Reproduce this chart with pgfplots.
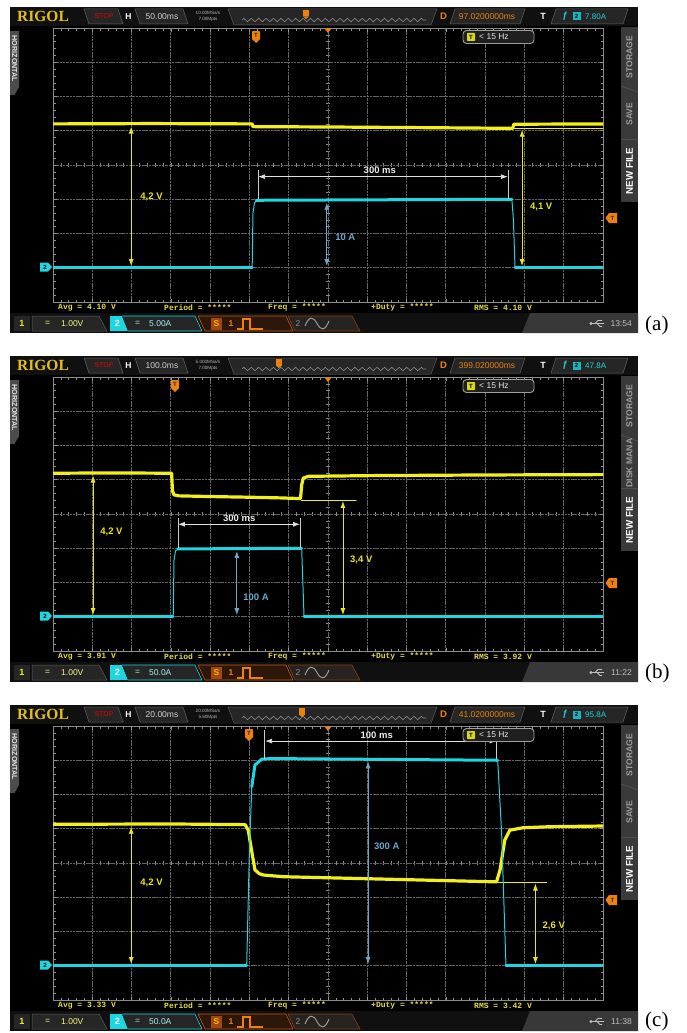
\documentclass[border=0pt]{standalone}
\usepackage{fontspec}
\setmainfont{Liberation Sans}
\newfontfamily\serif{Liberation Serif}
\newfontfamily\mono{Liberation Mono}
\usepackage{pgfplots}
\pgfplotsset{compat=1.18}
\usetikzlibrary{arrows.meta,decorations.pathmorphing}

\definecolor{ylw}{RGB}{242,240,22}
\definecolor{cyn}{RGB}{28,214,226}
\definecolor{annb}{RGB}{105,168,205}
\definecolor{anny}{RGB}{235,228,35}
\definecolor{gridc}{RGB}{100,100,100}
\definecolor{orng}{RGB}{238,128,12}
\definecolor{gold}{RGB}{226,192,24}
\definecolor{tabf}{RGB}{38,38,38}
\definecolor{tabl}{RGB}{92,92,92}
\definecolor{barf}{RGB}{16,16,16}
\definecolor{meas}{RGB}{228,218,70}
\definecolor{menu}{RGB}{58,58,58}
\definecolor{stopred}{RGB}{175,12,12}
\definecolor{sbg}{RGB}{45,22,10}
\definecolor{sline}{RGB}{200,90,20}

\newcommand\fs[1]{\fontsize{#1}{#1}\selectfont}

\tikzset{
  dimy/.style={anny, line width=0.8pt, {Latex[length=7pt,width=5pt]}-{Latex[length=7pt,width=5pt]}},
  dimb/.style={annb, line width=0.8pt, {Latex[length=7pt,width=5pt]}-{Latex[length=7pt,width=5pt]}},
  dimw/.style={white!88!black, line width=0.8pt, {Latex[length=7pt,width=5pt]}-{Latex[length=7pt,width=5pt]}},
  lab/.style={font=\bfseries\fs{9.5}, inner sep=0, anchor=west},
  endl/.style={white!80!black, line width=0.5pt},
}

\pgfplotsset{rigol/.style={
  scale only axis, width=550pt, height=274pt, anchor=south west,
  xmin=-7,xmax=7,ymin=-4,ymax=4,
  xtick={-7,-6,...,7}, ytick={-4,-3,...,4},
  xticklabels={}, yticklabels={},
  minor x tick num=4, minor y tick num=4,
  tick align=inside, tick pos=both,
  major tick length=3.5pt, minor tick length=2.5pt,
  every tick/.style={gridc!70!white, line width=0.6pt},
  grid=major,
  major grid style={gridc, line width=0.8pt, dash pattern=on 2.5pt off 0.8pt},
  axis line style={gridc!75!white, line width=0.8pt},
  clip=true,
  every axis plot/.append style={line join=round, line cap=round},
}}

% #1 H, #2 Sa, #3 pts, #4 D, #5 trig, #6 ch2, #7 avg, #8 rms, #9 time
\newcommand\chromeback[9]{%
 \fill[black] (10,-7) rectangle (638,-333);
 \fill[barf] (10,-7) rectangle (638,-26);
 \node[anchor=west,inner sep=0,text=gold,font=\serif\bfseries\fs{15.5}] at (17,-16.5) {RIGOL};
 \filldraw[fill=tabf,draw=tabl,line width=0.5pt] (84,-9)--(118,-9)--(123,-24)--(89,-24)--cycle;
 \node[text=stopred,font=\bfseries\fs{7}] at (104,-16.5) {STOP};
 \node[text=white,font=\bfseries\fs{8.5}] at (128.5,-16.5) {H};
 \filldraw[fill=tabf,draw=tabl,line width=0.5pt] (135,-9)--(183,-9)--(188,-24)--(140,-24)--cycle;
 \node[text=white!82!black,font=\fs{8.5}] at (162,-16.5) {#1};
 \node[text=white!72!black,font=\fontsize{4.6}{6.2}\selectfont,align=center,inner sep=0] at (208,-16.5) {#2\\#3};
 \filldraw[fill=tabf,draw=tabl,line width=0.5pt] (228,-9)--(437,-9)--(431,-25)--(234,-25)--cycle;
 \draw[white!55!black,line width=0.6pt,decorate,decoration={zigzag,segment length=7.4pt,amplitude=1.7pt}] (242,-20)--(426,-20);
 \node[text=orng,font=\bfseries\fs{9.5}] at (443.5,-16.5) {D};
 \filldraw[fill=tabf,draw=tabl,line width=0.5pt] (450,-24)--(455,-9)--(525,-9)--(520,-24)--cycle;
 \node[text=orng,font=\fs{8.5}] at (487,-16.5) {#4};
 \node[text=white,font=\bfseries\fs{9}] at (543,-16.5) {T};
 \filldraw[fill=tabf,draw=tabl,line width=0.5pt] (551,-24)--(556,-9)--(628,-9)--(623,-24)--cycle;
 \node[text=cyn,font=\bfseries\fs{9}] at (565,-16.5) {ƒ};
 \fill[cyn!85!black] (572.5,-12.5) rectangle (580.5,-20.5);
 \node[text=black,font=\bfseries\fs{6}] at (576.5,-16.5) {2};
 \node[anchor=west,inner sep=0,text=cyn,font=\fs{8}] at (585,-16.5) {#5};
 % left tab
 \fill[white!30!black] (10,-31)--(19,-31)--(19,-87)--(14.5,-95)--(10,-95)--cycle;
 \node[rotate=-90,text=white!90!black,font=\bfseries\fs{7.2},inner sep=0] at (14.5,-59) {HORIZONTAL};
 % measurements
 \begin{scope}[every node/.style={anchor=west,inner sep=0,text=meas,font=\mono\bfseries\fs{8}}]
 \node at (58,-307.5) {Avg = #7 V};
 \node at (164,-307.5) {Period = *****};
 \node at (268,-307.5) {Freq = *****};
 \node at (371,-307.5) {+Duty = *****};
 \node at (474,-307.5) {RMS = #8 V};
 \end{scope}
 % bottom bar
 \fill[barf] (10,-313) rectangle (638,-333);
 \fill[tabf] (14,-316) rectangle (30,-331);
 \node[text=ylw,font=\bfseries\fs{9}] at (22,-323.5) {1};
 \filldraw[fill=tabf,draw=tabl,line width=0.5pt] (32,-316)--(99,-316)--(107,-331)--(32,-331)--cycle;
 \node[anchor=west,inner sep=0,text=ylw!55!white,font=\fs{8.5}] at (45,-323.5) {=};
 \node[anchor=west,inner sep=0,text=ylw!55!white,font=\fs{8.5}] at (61,-323.5) {1.00V};
 \fill[cyn] (110,-316)--(122,-316)--(128,-331)--(110,-331)--cycle;
 \node[text=white,font=\bfseries\fs{9}] at (117.5,-323.5) {2};
 \filldraw[fill=tabf,draw=cyn,line width=0.6pt] (122,-316)--(195,-316)--(202,-331)--(128,-331);
 \node[anchor=west,inner sep=0,text=cyn!40!white,font=\fs{8.5}] at (135,-323.5) {=};
 \node[anchor=west,inner sep=0,text=cyn!40!white,font=\fs{8.5}] at (149,-323.5) {#6};
 \filldraw[fill=sbg,draw=sline,line width=0.6pt] (198,-316)--(286,-316)--(293,-331)--(205,-331)--cycle;
 \filldraw[fill=tabf!80!sbg,draw=sline!70!black,line width=0.6pt] (288,-316)--(352,-316)--(360,-331)--(295,-331)--cycle;
 \fill[sline!80!black] (211,-317.5) rectangle (222,-329.5);
 \node[text=orng!60!yellow,font=\bfseries\fs{8.5}] at (216.5,-323.5) {S};
 \node[text=orng,font=\bfseries\fs{8.5}] at (231,-323.5) {1};
 \draw[orng,line width=1.1pt] (237,-329)--(243,-329)--(243,-319)--(250,-319)--(250,-329)--(263,-329);
 \node[text=white!55!black,font=\fs{8.5}] at (298,-323.5) {2};
 \draw[white!60!black,line width=1pt] (305,-326) .. controls (309,-316) and (313,-316) .. (317,-323.5) .. controls (321,-331) and (325,-331) .. (329,-321);
 \fill[white!22!black] (530,-313)--(638,-313)--(638,-333)--(522,-333)--cycle;
 \node[text=white!75!black,font=\fs{8.5},anchor=east,inner sep=0] at (632,-323.5) {#9};
 \draw[white!75!black,line width=0.8pt] (591,-323.5)--(604,-323.5) (595,-323.5)--(598,-320.5)--(602,-320.5) (597,-323.5)--(600,-326.5)--(602,-326.5);
 \fill[white!75!black] (591,-323.5) circle (1.6);
 % centre ticks
 \foreach \i in {1,...,69} \draw[gridc!75!white,line width=0.6pt] ({53+\i*7.857},-163) -- ({53+\i*7.857},-167);
 \foreach \i in {1,...,39} \draw[gridc!75!white,line width=0.6pt] (326,{-28-\i*6.85}) -- (330,{-28-\i*6.85});
}

\newcommand\zz[1]{%
 \fill[orng] ({#1-3},-10) rectangle ({#1+3},-16.5);
 \fill[orng] ({#1-3},-16.5)--({#1+3},-16.5)--(#1,-19)--cycle;
}

\newcommand\menu[1]{%
 \fill[menu] (621,-27) rectangle (638,-202);
 \draw[black!70,line width=1pt] (621,-86)--(638,-92);
 \draw[black!70,line width=1pt] (621,-139)--(638,-139);
 \node[rotate=90,text=white!62!black,font=\bfseries\fs{8.6},inner sep=0] at (629.5,-57) {STORAGE};
 \node[rotate=90,text=white!62!black,font=\bfseries\fs{8.6},inner sep=0] at (629.5,-114) {#1};
 \node[rotate=90,text=white,font=\bfseries\fs{9.8},inner sep=0] at (629.5,-171) {NEW FILE};
}

\newcommand\chromefront[2]{%
 \fill[orng] (324.5,-28.5)--(331.5,-28.5)--(328,-33)--cycle;
 \fill[orng,rounded corners=0.8pt] ({#1-4},-31) rectangle ({#1+4},-40);
 \fill[orng] ({#1-3.5},-39.5)--({#1+3.5},-39.5)--(#1,-43)--cycle;
 \node[font=\bfseries\fs{6},text=black!75!orng,inner sep=0] at (#1,-35.5) {T};
 \fill[orng] (605.5,-#2)--(609,{-#2+5})--(617,{-#2+5})--(617,{-#2-5})--(609,{-#2-5})--cycle;
 \node[font=\bfseries\fs{6},text=black!75!orng,inner sep=0] at (612.5,-#2) {T};
 \fill[cyn] (40,-262.5)--(48,-262.5)--(52,-267)--(48,-271.5)--(40,-271.5)--cycle;
 \node[font=\bfseries\fs{6},text=black,inner sep=0] at (45,-267) {2};
 \filldraw[fill=black!88!white,draw=white!62!black,line width=0.9pt,rounded corners=3.5pt] (463,-30.5) rectangle (534,-43.5);
 \fill[ylw!90!black,rounded corners=0.6pt] (467,-33) rectangle (475,-41);
 \node[font=\bfseries\fs{6},text=black,inner sep=0] at (471,-37) {T};
 \node[anchor=west,inner sep=0,text=white!90!black,font=\fs{8.5}] at (479,-37) {< 15 Hz};
}

\begin{document}
\begin{tikzpicture}[x=1pt,y=1pt]
\fill[white] (0,0) rectangle (686,-1033);

% ================= (a)
\begin{scope}
 \chromeback{50.00ms}{10.00MSa/s}{7.00Mpts}{97.0200000ms}{7.80A}{5.00A}{4.10}{4.10}{13:54}
 \zz{306}
 \menu{SAVE}
\end{scope}
\begin{axis}[rigol, at={(53pt,-302pt)}]
\addplot[ylw, line width=3.2pt] coordinates {(-7,1.2)(-4.5,1.21)(-1.93,1.2)(-1.91,1.12)(0,1.11)(2.5,1.09)(4.70,1.07)(4.73,1.19)(7,1.2)};
\addplot[ylw, line width=0.6pt] coordinates {(4.72,1.07)(7,1.07)};
\addplot[cyn, line width=3pt] coordinates {(-7,-3)(-1.93,-3)};
\addplot[cyn, line width=1pt] coordinates {(-1.93,-3)(-1.91,-1.4)(-1.87,-1.1)(-1.8,-1.03)};
\addplot[cyn, line width=3pt] coordinates {(-1.82,-1.03)(4.68,-1.0)};
\addplot[cyn, line width=1pt] coordinates {(4.68,-1.0)(4.72,-1.6)(4.76,-3)};
\addplot[cyn, line width=3pt] coordinates {(4.76,-3)(7,-3)};
\draw[dimy] (axis cs:-5.01,1.12) -- (axis cs:-5.01,-2.95);
\node[lab,text=anny] at (axis cs:-4.78,-0.93) {4,2 V};
\draw[dimb] (axis cs:-0.03,-1.1) -- (axis cs:-0.03,-2.95);
\node[lab,text=annb] at (axis cs:0.18,-2.1) {10 A};
\draw[endl] (axis cs:-1.78,-0.15) -- (axis cs:-1.78,-1.0);
\draw[endl] (axis cs:4.58,-0.15) -- (axis cs:4.58,-1.0);
\draw[dimw] (axis cs:-1.78,-0.34) -- (axis cs:4.58,-0.34);
\node[lab,anchor=south,text=white!92!black] at (axis cs:1.32,-0.27) {300 ms};
\draw[dimy] (axis cs:4.94,1.03) -- (axis cs:4.94,-2.95);
\node[lab,text=anny] at (axis cs:5.14,-1.23) {4,1 V};
\end{axis}
\begin{scope}
 \chromefront{256}{218}
\end{scope}
\node[anchor=west,inner sep=0,font=\serif\fs{21}] at (645,-325) {(a)};

% ================= (b)
\begin{scope}[yshift=-349pt]
 \chromeback{100.0ms}{5.000MSa/s}{7.00Mpts}{399.020000ms}{47.8A}{50.0A}{3.91}{3.92}{11:22}
 \zz{279}
 \menu{DISK MANA}
\end{scope}
\begin{axis}[rigol, at={(53pt,-651pt)}]
\addplot[ylw, line width=3.2pt] coordinates {(-7,1.19)(-5.5,1.2)(-3.98,1.19)(-3.96,0.68)(-3.92,0.56)(-3.8,0.53)(-3.0,0.51)(-2.0,0.49)(-1.2,0.47)(-0.7,0.45)(-0.67,0.85)(-0.63,1.05)(-0.5,1.1)(1,1.12)(4,1.14)(7,1.15)};
\addplot[ylw, line width=0.6pt] coordinates {(-0.68,0.41)(0.72,0.41)};
\addplot[cyn, line width=3pt] coordinates {(-7,-3)(-3.94,-3)};
\addplot[cyn, line width=1pt] coordinates {(-3.94,-3)(-3.92,-1.35)(-3.88,-1.07)(-3.8,-1.02)};
\addplot[cyn, line width=3pt] coordinates {(-3.82,-1.02)(-0.67,-1.0)};
\addplot[cyn, line width=1pt] coordinates {(-0.67,-1.0)(-0.64,-2)(-0.61,-3)};
\addplot[cyn, line width=3pt] coordinates {(-0.61,-3)(7,-3)};
\draw[dimy] (axis cs:-5.98,1.12) -- (axis cs:-5.98,-2.95);
\node[lab,text=anny] at (axis cs:-5.8,-0.53) {4,2 V};
\draw[endl] (axis cs:-3.82,-0.12) -- (axis cs:-3.82,-1.0);
\draw[endl] (axis cs:-0.71,-0.12) -- (axis cs:-0.71,-1.0);
\draw[dimw] (axis cs:-3.82,-0.3) -- (axis cs:-0.71,-0.3);
\node[lab,anchor=south,text=white!92!black] at (axis cs:-2.26,-0.23) {300 ms};
\draw[dimb] (axis cs:-2.32,-1.08) -- (axis cs:-2.32,-2.95);
\node[lab,text=annb] at (axis cs:-2.16,-2.42) {100 A};
\draw[dimy] (axis cs:0.38,0.38) -- (axis cs:0.38,-2.95);
\node[lab,text=anny] at (axis cs:0.56,-1.34) {3,4 V};
\end{axis}
\begin{scope}[yshift=-349pt]
 \chromefront{175}{234}
\end{scope}
\node[anchor=west,inner sep=0,font=\serif\fs{21}] at (645,-673) {(b)};

% ================= (c)
\begin{scope}[yshift=-698pt]
 \chromeback{20.00ms}{20.00MSa/s}{5.60Mpts}{41.0200000ms}{95.8A}{50.0A}{3.33}{3.42}{11:38}
 \zz{302}
 \menu{SAVE}
\end{scope}
\begin{axis}[rigol, at={(53pt,-1000pt)}]
\addplot[ylw, line width=3.2pt] coordinates {(-7,1.13)(-4,1.14)(-2.11,1.12)(-2.03,0.96)(-1.94,0.33)(-1.86,-0.2)(-1.75,-0.31)(-1.65,-0.35)(-1.14,-0.4)(1.41,-0.47)(4.29,-0.55)(4.38,-0.2)(4.5,0.67)(4.63,0.96)(4.97,1.03)(5.65,1.06)(7,1.08)};
\addplot[ylw, line width=0.6pt] coordinates {(4.33,-0.55)(5.57,-0.55)};
\addplot[cyn, line width=3pt] coordinates {(-7,-3)(-2.07,-3)};
\addplot[cyn, line width=1pt] coordinates {(-2.07,-3)(-2.0,0.38)(-1.94,2.23)};
\addplot[cyn, line width=3pt] coordinates {(-1.94,2.23)(-1.86,2.86)(-1.69,3.03)(-1.48,3.05)(4.32,3.0)};
\addplot[cyn, line width=1pt] coordinates {(4.32,3.0)(4.42,0.87)(4.53,-3)};
\addplot[cyn, line width=3pt] coordinates {(4.53,-3)(7,-3)};
\draw[endl] (axis cs:-1.63,3.88) -- (axis cs:-1.63,3.05);
\draw[endl] (axis cs:4.29,3.67) -- (axis cs:4.29,3.05);
\draw[dimw] (axis cs:-1.6,3.56) -- (axis cs:4.29,3.56);
\node[lab,anchor=south,text=white!92!black] at (axis cs:1.24,3.62) {100 ms};
\draw[dimb] (axis cs:1.02,2.97) -- (axis cs:1.02,-2.95);
\node[lab,text=annb] at (axis cs:1.17,0.48) {300 A};
\draw[dimy] (axis cs:-5.01,1.06) -- (axis cs:-5.01,-2.95);
\node[lab,text=anny] at (axis cs:-4.78,-0.58) {4,2 V};
\draw[dimy] (axis cs:5.28,-0.6) -- (axis cs:5.28,-2.95);
\node[lab,text=anny] at (axis cs:5.46,-1.84) {2,6 V};
\end{axis}
\begin{scope}[yshift=-698pt]
 \chromefront{249}{202}
\end{scope}
\node[anchor=west,inner sep=0,font=\serif\fs{21}] at (645,-1021) {(c)};
\end{tikzpicture}
\end{document}
